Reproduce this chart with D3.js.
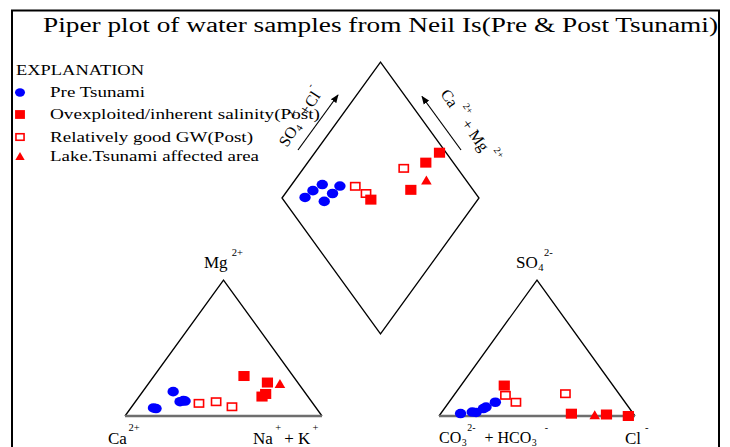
<!DOCTYPE html>
<html>
<head>
<meta charset="utf-8">
<script src="https://cdn.jsdelivr.net/npm/d3@7"></script>
<style>
    html, body { margin: 0; padding: 0; background: #fff; }
    svg { display: block; }
    svg text { font-family: 'Liberation Serif', 'Times New Roman', 'DejaVu Serif', serif; }
</style>
</head>
<body>
<div id="chart"></div>
<script>
// legend groups
const groupKeys = ['pre', 'over', 'good', 'lake'];
const groupLabels = ['Pre Tsunami', 'Ovexploited/inherent salinity(Post)', 'Relatively good GW(Post)', 'Lake.Tsunami affected area'];

// one entry per water sample, meq %
const sampleGroup = ['pre', 'pre', 'pre', 'pre', 'pre', 'pre', 'over', 'over', 'over', 'over', 'good', 'good', 'good', 'lake'];
const mgPct  = [5.9, 5.5, 17.9, 11.0, 11.3, 10.5, 29.4, 14.3, 24.6, 16.2, 9.3, 10.5, 6.8, 23.5];
const naKPct = [11.5, 13.0, 15.5, 25.0, 24.0, 22.7, 45.7, 62.4, 60.0, 63.3, 32.9, 41.0, 50.9, 66.9];
const so4Pct = [1.8, 2.9, 5.5, 10.1, 6.6, 2.6, 22.4, 1.7, 1.1, 0.0, 15.2, 10.1, 16.4, 0.5];
const clPct  = [10.1, 15.5, 19.9, 23.7, 20.7, 17.6, 22.1, 66.7, 84.9, 96.6, 26.3, 34.2, 56.3, 79.2];

const BLUE = '#0000ff';
const RED = '#ff0000';
const SERIF = "'Liberation Serif', 'Times New Roman', 'DejaVu Serif', serif";

const svg = d3.select('#chart').append('svg')
    .attr('width', 730)
    .attr('height', 447);

// scales for the three fields
const catX = d3.scaleLinear().domain([0, 100]).range([125, 322]);
const anX = d3.scaleLinear().domain([0, 100]).range([439, 635]);
const triY = d3.scaleLinear().domain([0, 100]).range([416, 280]);
const dX = d3.scaleLinear().domain([0, 200]).range([282, 479]);
const dY = d3.scaleLinear().domain([-100, 100]).range([62, 334]);

const cation = (mg, na) => [catX(na + mg / 2), triY(mg)];
const anion = (so4, cl) => [anX(cl + so4 / 2), triY(so4)];
const diamond = (na, s) => [dX(na + s), dY(na - s)];

// frame
svg.append('rect')
    .attr('x', 12).attr('y', 10.5)
    .attr('width', 707).attr('height', 460)
    .attr('fill', 'none')
    .attr('stroke', '#000')
    .attr('stroke-width', 2);

// title (the source picture is stretched sideways, so the glyphs are too)
svg.append('text')
    .attr('x', 43).attr('y', 32)
    .attr('font-family', SERIF)
    .attr('textLength', 675)
    .attr('lengthAdjust', 'spacingAndGlyphs')
    .style('font-size', '20px')
    .text('Piper plot of water samples  from Neil Is(Pre & Post Tsunami)');

// outlines
const line = d3.line();
const sideStyle = sel => sel.attr('fill', 'none').attr('stroke', '#000').attr('stroke-width', 1.3);

svg.append('path').attr('d', line([cation(0, 0), cation(100, 0), cation(0, 100)])).call(sideStyle);
svg.append('path').attr('d', line([anion(0, 0), anion(100, 0), anion(0, 100)])).call(sideStyle);
svg.append('path').attr('d', line([diamond(0, 0), diamond(0, 100), diamond(100, 100), diamond(100, 0)]) + 'Z').call(sideStyle);

[[cation(0, 0), cation(0, 100)], [anion(0, 0), anion(0, 100)]].forEach(b => {
    svg.append('path').attr('d', line(b))
        .attr('stroke', '#6e6e6e')
        .attr('stroke-width', 2.4);
});

// markers
function drawMarker(g, key, x, y, s) {
    if (key === 'pre') {
        g.append('ellipse').attr('cx', x).attr('cy', y)
            .attr('rx', 5.7 * s).attr('ry', 4.8 * s).attr('fill', BLUE);
    } else if (key === 'over') {
        g.append('rect').attr('x', x - 5.6 * s).attr('y', y - 5 * s)
            .attr('width', 11.2 * s).attr('height', 10 * s).attr('fill', RED);
    } else if (key === 'good') {
        g.append('rect').attr('x', x - 4.6 * s).attr('y', y - 3.7 * s)
            .attr('width', 9.2 * s).attr('height', 7.4 * s)
            .attr('fill', '#fff').attr('stroke', RED).attr('stroke-width', 1.6);
    } else {
        g.append('path')
            .attr('d', `M${x},${y - 5 * s}L${x + 5.3 * s},${y + 4 * s}L${x - 5.3 * s},${y + 4 * s}Z`)
            .attr('fill', RED);
    }
}

const drawOrder = ['pre', 'good', 'over', 'lake'];
const pts = svg.append('g').attr('class', 'samples');
drawOrder.forEach(key => {
    sampleGroup.forEach((grp, i) => {
        if (grp !== key) return;
        const c = cation(mgPct[i], naKPct[i]);
        const a = anion(so4Pct[i], clPct[i]);
        const d = diamond(naKPct[i], so4Pct[i] + clPct[i]);
        [c, a, d].forEach(p => drawMarker(pts, key, p[0], p[1], 1));
    });
});

// legend
const legend = svg.append('g').attr('class', 'legend');
legend.append('text')
    .attr('x', 16).attr('y', 75)
    .attr('font-family', SERIF)
    .attr('textLength', 128).attr('lengthAdjust', 'spacingAndGlyphs')
    .style('font-size', '15px')
    .text('EXPLANATION');

const legendY = [92.5, 114.5, 137, 156.5];
const legendLen = [95, 270, 203, 209];
groupKeys.forEach((key, i) => {
    drawMarker(legend, key, 20, legendY[i], 0.88);
    legend.append('text')
        .attr('x', 50).attr('y', legendY[i] + 4.5)
        .attr('font-family', SERIF)
        .attr('textLength', legendLen[i]).attr('lengthAdjust', 'spacingAndGlyphs')
        .style('font-size', '15px')
        .text(groupLabels[i]);
});

// text with super/subscripts: parts are [text, kind, dx]
function richText(g, x, y, size, parts, transform) {
    const t = g.append('text')
        .attr('font-family', SERIF)
        .style('font-size', size + 'px');
    if (transform) t.attr('transform', transform);
    else t.attr('x', x).attr('y', y);
    let cur = 0;
    parts.forEach(([s, kind, dx]) => {
        const target = kind === 'sup' ? -0.72 * size : kind === 'sub' ? 0.16 * size : 0;
        const span = t.append('tspan')
            .attr('dx', dx || 0)
            .attr('dy', target - cur)
            .text(s);
        if (kind) span.style('font-size', (0.62 * size) + 'px');
        cur = target;
    });
    return t;
}

const labels = svg.append('g').attr('class', 'corner-labels');
richText(labels, 204, 268, 17, [['Mg'], ['2+', 'sup', 4]]);
richText(labels, 108, 443.5, 17, [['Ca'], ['2+', 'sup', 1.5]]);
richText(labels, 253, 443.5, 17, [['Na'], ['+', 'sup', 2.5], ['+ K', '', 3], ['+', 'sup', 2]]);
richText(labels, 516, 268, 17, [['SO'], ['4', 'sub', 0.5], ['2-', 'sup', 0.5]]);
richText(labels, 439, 443, 16, [['CO'], ['3', 'sub', 0.5], ['2-', 'sup', 0.5], ['+ HCO', '', 9], ['3', 'sub', 0.5], ['-', 'sup', 8]]);
richText(labels, 625, 443.5, 17, [['Cl'], ['-', 'sup', 4]]);

// diamond edge labels and arrows
svg.append('defs').append('marker')
    .attr('id', 'head')
    .attr('viewBox', '0 0 10 10')
    .attr('refX', 9).attr('refY', 5)
    .attr('markerWidth', 7).attr('markerHeight', 7)
    .attr('orient', 'auto')
    .append('path').attr('d', 'M0,1L10,5L0,9Z').attr('fill', '#000');

[[[298, 150], [338, 95]], [[461, 150], [422, 96.5]]].forEach(a => {
    svg.append('path').attr('d', line(a))
        .attr('stroke', '#000').attr('stroke-width', 1.2)
        .attr('marker-end', 'url(#head)');
});

richText(svg, 0, 0, 16, [['SO'], ['4', 'sub', 0.5], ['2-', 'sup', 2], ['+', '', 1], ['Cl', '', 1], ['-', 'sup', 1]],
    'translate(287,148) rotate(-57)');
richText(svg, 0, 0, 16, [['Ca'], ['2+', 'sup', 5], ['+ Mg', '', 3], ['2+', 'sup', 5]],
    'translate(440,94) rotate(55)');
</script>
</body>
</html>
